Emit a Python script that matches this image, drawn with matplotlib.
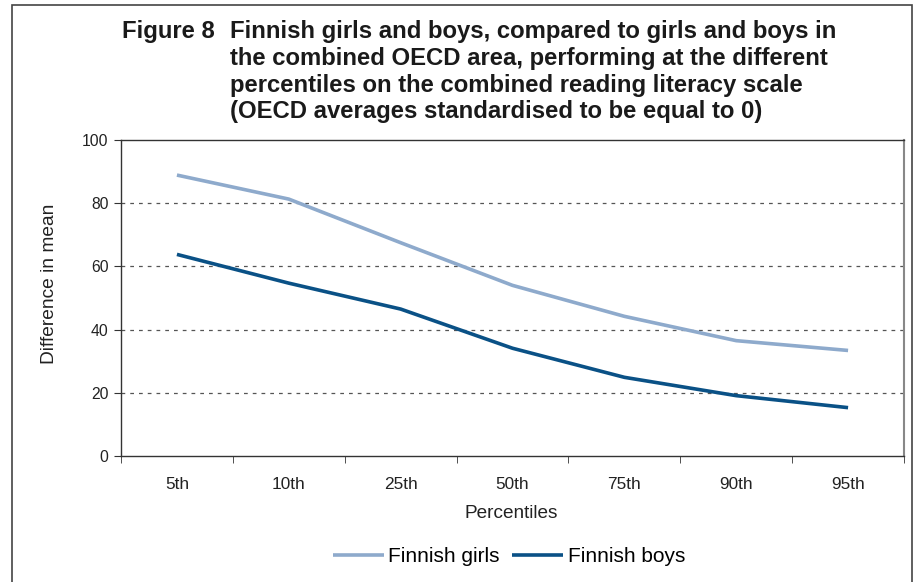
import matplotlib
matplotlib.use("Agg")
from matplotlib import pyplot as plt
from matplotlib.patches import Rectangle

plt.rcParams['font.family'] = ['Liberation Sans', 'DejaVu Sans']

percentiles = ['5th', '10th', '25th', '50th', '75th', '90th', '95th']
girls = [88.9, 81.3, 67.5, 54.0, 44.2, 36.5, 33.4]
boys = [63.8, 54.7, 46.5, 34.1, 24.9, 19.1, 15.3]
yticks = [0, 20, 40, 60, 80, 100]

fig = plt.figure(figsize=(9.17, 5.82), dpi=100)
W, H = 917, 582
ax = fig.add_axes([121 / W, 1 - 456 / H, (904 - 121) / W, (456 - 140) / H])

x = list(range(len(percentiles)))
ax.plot(x, girls, color='#8eaacc', lw=2.6, label='Finnish girls', solid_capstyle='butt')
ax.plot(x, boys, color='#0a5186', lw=2.6, label='Finnish boys', solid_capstyle='butt')

ax.set_xlim(-0.5, len(percentiles) - 0.5)
ax.set_ylim(0, 100)
ax.set_yticks(yticks)
ax.set_xticks(x)
ax.set_xticklabels(percentiles)
ax.set_xticks([i - 0.5 for i in range(len(percentiles) + 1)], minor=True)
ax.tick_params(axis='x', which='major', length=0, pad=15, labelsize=12.4, colors='#222222')
ax.tick_params(axis='x', which='minor', length=5, direction='out', color='#333333')
ax.tick_params(axis='y', length=5, direction='out', labelsize=11.3, pad=4, colors='#222222', color='#333333')
for g in yticks[1:-1]:
    ax.axhline(g, color='#555555', lw=0.9, ls=(0, (3, 4)), zorder=0)

for s in ['left', 'bottom', 'top']:
    ax.spines[s].set_color('#333333')
    ax.spines[s].set_linewidth(1.0)
ax.spines['right'].set_color('#888888')
ax.spines['right'].set_linewidth(1.5)

fig.text(50 / W, 1 - 284 / H, 'Difference in mean', fontsize=13.8, color='#222222',
         rotation=90, ha='center', va='center')
fig.text(511 / W, 1 - 513 / H, 'Percentiles', fontsize=13.7, color='#222222',
         ha='center', va='center')

fig.legend(loc='center', bbox_to_anchor=(509 / W, 1 - 557 / H), ncol=2, frameon=False,
           fontsize=15, handlelength=2.45, handletextpad=0.2, columnspacing=0.6)

title_lines = ('Finnish girls and boys, compared to girls and boys in\n'
               'the combined OECD area, performing at the different\n'
               'percentiles on the combined reading literacy scale\n'
               '(OECD averages standardised to be equal to 0)')
fig.text(122 / W, 1 - 20 / H, 'Figure 8', fontsize=17.2, fontweight='bold', va='top', ha='left',
         color='#1a1a1a')
fig.text(230 / W, 1 - 20 / H, title_lines, fontsize=17.2, fontweight='bold', va='top', ha='left',
         linespacing=1.21, color='#1a1a1a')

fig.patches.append(Rectangle((12 / W, -0.1), (912 - 12) / W, 1.1 - 5 / H, transform=fig.transFigure,
                             fill=False, edgecolor='#444444', lw=1.2))

fig.savefig('out.png', dpi=100)
